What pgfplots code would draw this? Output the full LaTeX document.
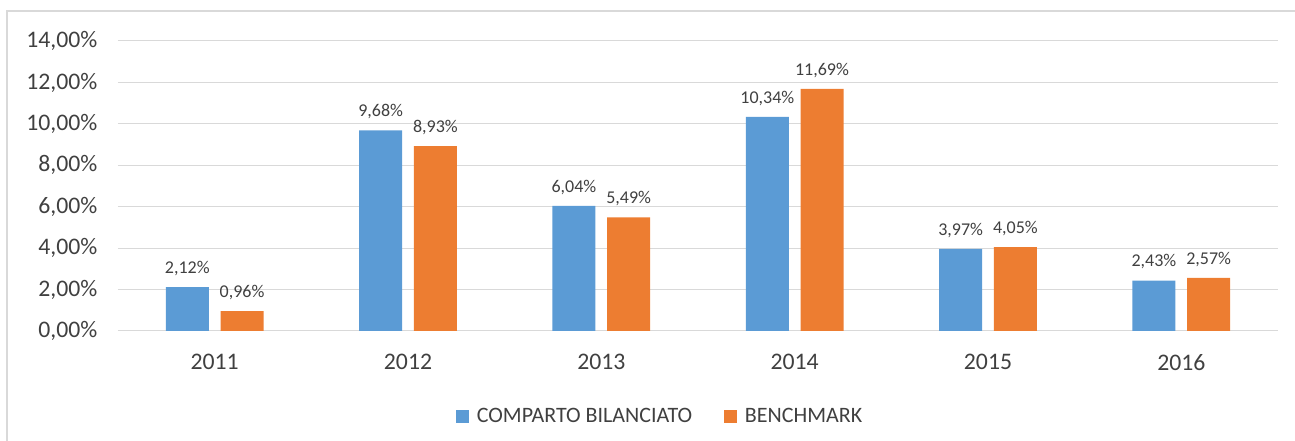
\documentclass[border=0pt]{standalone}
\usepackage{pgfplots}
\pgfplotsset{compat=1.18}
\usepackage{fontspec}
\setmainfont{Carlito}
\definecolor{cblue}{RGB}{91,155,213}
\definecolor{corange}{RGB}{237,125,49}
\definecolor{gridc}{RGB}{217,217,217}
\definecolor{txt}{RGB}{64,64,64}
\begin{document}
\begin{tikzpicture}
\useasboundingbox (-88.5pt,-82.5pt) rectangle (882.75pt,248.25pt);
\draw[gridc, line width=1pt] (-83.25pt,-90pt) -- (-83.25pt,240pt) -- (890pt,240pt);
\begin{axis}[at={(0,0)}, anchor=south west, scale only axis,
  width=870pt, height=217.5pt,
  ybar=8.8pt, bar width=32.25pt,
  xmin=-0.5, xmax=5.5, ymin=0, ymax=14,
  xtick=data, xticklabels={2011,2012,2013,2014,2015,2016},
  ytick={0,2,4,6,8,10,12,14},
  yticklabels={{0,00\%},{2,00\%},{4,00\%},{6,00\%},{8,00\%},{10,00\%},{12,00\%},{14,00\%}},
  ymajorgrids, grid style={gridc, line width=0.75pt},
  axis line style={draw=none}, major tick length=0pt,
  /pgf/number format/assume math mode=true,
  tick label style={font=\fontsize{17.8}{21}\selectfont, text=txt},
  yticklabel style={xshift=-12pt},
  xticklabel style={yshift=-14pt},
  nodes near coords={\pgfmathprintnumber[fixed,fixed zerofill,precision=2,use comma,assume math mode=true]{\pgfplotspointmeta}\%},
  every node near coord/.append style={font=\fontsize{13.5}{16}\selectfont, text=txt, yshift=5pt},
  legend style={at={(0.4677,-0.296)}, anchor=center, draw=none, fill=none,
    font=\fontsize{16.5}{19}\selectfont, text=txt,
    /tikz/every even column/.append style={column sep=22pt}},
  legend columns=2,
  legend image code/.code={\fill[#1] (0pt,-4.875pt) rectangle (9.75pt,4.875pt); \path (13.5pt,0pt);},
]
\addplot[fill=cblue, draw=none] coordinates {(0,2.12) (1,9.68) (2,6.04) (3,10.34) (4,3.97) (5,2.43)};
\addplot[fill=corange, draw=none] coordinates {(0,0.96) (1,8.93) (2,5.49) (3,11.69) (4,4.05) (5,2.57)};
\legend{COMPARTO BILANCIATO, BENCHMARK}
\end{axis}
\end{tikzpicture}
\end{document}
